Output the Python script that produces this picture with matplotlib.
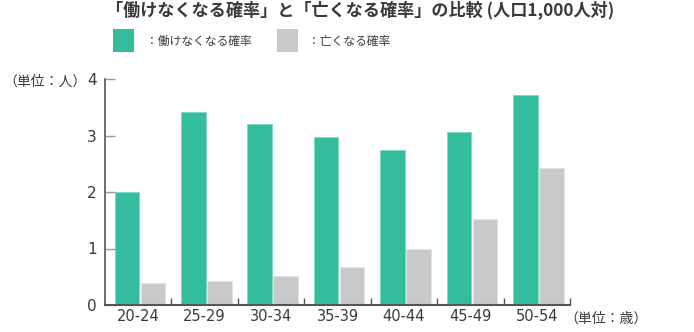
import matplotlib
matplotlib.use("Agg")
import matplotlib.pyplot as plt
from matplotlib.patches import Rectangle
import numpy as np

plt.rcParams['font.family'] = ['Noto Sans CJK JP', 'DejaVu Sans']

categories = ["20-24", "25-29", "30-34", "35-39", "40-44", "45-49", "50-54"]
disability = [2.00, 3.41, 3.20, 2.97, 2.74, 3.07, 3.72]
death = [0.39, 0.42, 0.51, 0.67, 0.985, 1.53, 2.42]
yticks = [0, 1, 2, 3, 4]

title = "「働けなくなる確率」と「亡くなる確率」の比較 (人口1,000人対)"
label_dis = "：働けなくなる確率"
label_death = "：亡くなる確率"
y_unit = "（単位：人）"
x_unit = "（単位：歳）"

green = "#33BD9E"
gray = "#C8C9CA"
txt = "#3a3a3a"
axc = "#555555"
num_font = ['DejaVu Sans']

fig = plt.figure(figsize=(6.94, 3.32), dpi=100)
ax = fig.add_axes([105/694, 27/332, 465/694, 226/332])

x = np.arange(len(categories))
w = 0.37
ax.bar(x - 0.17, disability, width=w, color=green, edgecolor="#7fd8c4", linewidth=0.6)
ax.bar(x + 0.22, death, width=w, color=gray, edgecolor="#e2e2e2", linewidth=0.6)

ax.set_xlim(-0.5, len(categories) - 0.5)
ax.set_ylim(0, 4)
ax.set_yticks(yticks)
ax.set_yticklabels([str(t) for t in yticks], fontsize=11, color=txt, family=num_font)
ax.set_xticks(x)
ax.set_xticklabels(categories, fontsize=10.5, color=txt, family=num_font)
ax.tick_params(axis='x', length=0, pad=3)
ax.tick_params(axis='y', direction='in', length=7, color="#999999", pad=6, width=1)
ax.set_xticks(np.arange(len(categories)) + 0.5, minor=True)
ax.tick_params(axis='x', which='minor', direction='in', length=5, color=axc, width=1)

for s in ['top', 'right']:
    ax.spines[s].set_visible(False)
ax.spines['left'].set_color(axc)
ax.spines['bottom'].set_color(axc)
ax.spines['left'].set_linewidth(1.2)
ax.spines['bottom'].set_linewidth(1.5)

fig.text(360/694, 1 - 10/332, title, ha='center', va='center', fontsize=12.3,
         fontweight='bold', color=txt)

# legend
fig.patches.append(Rectangle((113/694, 1 - 52/332), 21/694, 23/332, transform=fig.transFigure,
                             facecolor=green, edgecolor='none'))
fig.text(146/694, 1 - 41/332, label_dis, ha='left', va='center', fontsize=8.5, color=txt)
fig.patches.append(Rectangle((277/694, 1 - 52/332), 21/694, 23/332, transform=fig.transFigure,
                             facecolor=gray, edgecolor='none'))
fig.text(308/694, 1 - 41/332, label_death, ha='left', va='center', fontsize=8.5, color=txt)

fig.text(3/694, 1 - 82/332, y_unit, ha='left', va='center', fontsize=10, color=txt)
fig.text(564/694, 1 - 319/332, x_unit, ha='left', va='center', fontsize=10, color=txt)

fig.savefig("out.png", dpi=100)
